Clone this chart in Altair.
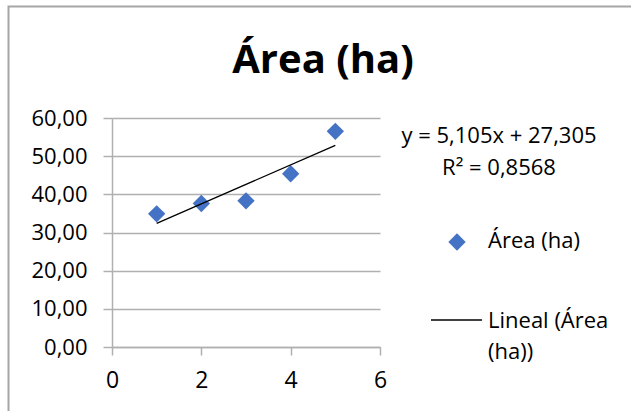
import altair as alt
import pandas as pd

# Observed series
x_vals = [1, 2, 3, 4, 5]
area_ha = [34.9, 37.6, 38.3, 45.4, 56.5]

# Linear trend line coefficients (as shown in the equation label)
slope = 5.105
intercept = 27.305
r_squared = 0.8568
trend_x = [1, 5]

x_ticks = [0, 2, 4, 6]
y_ticks = [0, 10, 20, 30, 40, 50, 60]

title_text = "Área (ha)"
series_label = "Área (ha)"
trend_label_lines = ["Lineal (Área", "(ha))"]
eq_text = "y = 5,105x + 27,305"
r2_text = "R² = 0,8568"

FONT = "Open Sans"
GRID = "#b0b0b0"
BLUE = "#4472C4"

W, H = 268, 229

points_df = pd.DataFrame({"x": x_vals, "y": area_ha})
trend_df = pd.DataFrame({"x": trend_x})

x_scale = alt.Scale(domain=[0, 6], nice=False)
y_scale = alt.Scale(domain=[0, 60], nice=False)

x_axis = alt.Axis(
    values=x_ticks, title=None, grid=False, domain=True, domainColor=GRID,
    domainWidth=1.5, ticks=True, tickColor=GRID, tickWidth=1.5, tickSize=8,
    labelFont=FONT, labelFontSize=23, labelColor="#000000", labelPadding=14,
    labelFlush=False, labelOverlap=False,
)
y_axis = alt.Axis(
    values=y_ticks, title=None, grid=True, gridColor=GRID, gridWidth=1.5,
    domain=True, domainColor=GRID, domainWidth=1.5, ticks=True,
    tickColor=GRID, tickWidth=1.5, tickSize=9, labelFont=FONT,
    labelFontSize=22, labelColor="#000000", labelPadding=16,
    labelOverlap=False, labelFlush=False,
    labelExpr="replace(format(datum.value, '.2f'), '.', ',')",
)

points = alt.Chart(points_df).mark_point(
    shape="diamond", filled=True, size=300, color=BLUE, opacity=1
).encode(
    x=alt.X("x:Q", scale=x_scale, axis=x_axis),
    y=alt.Y("y:Q", scale=y_scale, axis=y_axis),
)

trend = alt.Chart(trend_df).transform_calculate(
    y=f"{slope} * datum.x + {intercept}"
).mark_line(color="#000000", strokeWidth=1.3).encode(
    x=alt.X("x:Q", scale=x_scale, axis=x_axis),
    y=alt.Y("y:Q", scale=y_scale, axis=y_axis),
)

# Outer chart frame
frame = alt.Chart(pd.DataFrame({"k": [0]})).mark_rect(
    fill=None, stroke="#a6a6a6", strokeWidth=2
).encode(
    x=alt.value(-103.5), x2=alt.value(W + 300),
    y=alt.value(-111.5), y2=alt.value(H + 200),
)

def label(text, x, y, size=22, weight="normal", align="left"):
    return alt.Chart(pd.DataFrame({"t": [text]})).mark_text(
        font=FONT, fontSize=size, fontWeight=weight, align=align,
        baseline="alphabetic", color="#000000",
    ).encode(text="t:N", x=alt.value(x), y=alt.value(y))

title = label(title_text, 211, -45, size=40, weight="bold", align="center")
eq = label(eq_text, 387, 25, align="center")
r2 = label(r2_text, 387, 57, align="center")

legend_marker = alt.Chart(pd.DataFrame({"k": [0]})).mark_point(
    shape="diamond", filled=True, size=300, color=BLUE, opacity=1
).encode(x=alt.value(345), y=alt.value(124))
legend_series = label(series_label, 376, 130)
legend_line = alt.Chart(pd.DataFrame({"k": [0]})).mark_rule(
    color="#000000", strokeWidth=1.3
).encode(x=alt.value(319), x2=alt.value(370), y=alt.value(202))
legend_trend1 = label(trend_label_lines[0], 376, 210)
legend_trend2 = label(trend_label_lines[1], 376, 241)

chart = alt.layer(
    frame, points, trend, title, eq, r2,
    legend_marker, legend_series, legend_line, legend_trend1, legend_trend2,
).properties(
    width=W, height=H,
    autosize=alt.AutoSizeParams(type="none"),
    padding={"left": 112, "top": 118, "right": 631 - 112 - W, "bottom": 411 - 118 - H},
    background="#ffffff",
).configure_view(stroke=None)

chart.save("out.html", embed_options={"renderer": "svg", "actions": False})
